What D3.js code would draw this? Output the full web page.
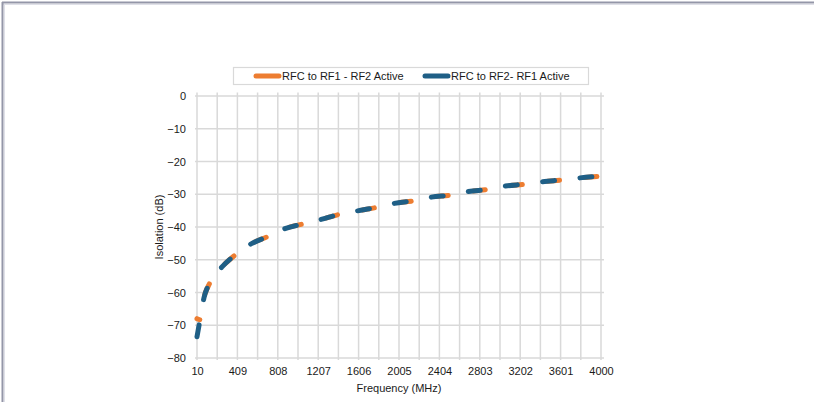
<!DOCTYPE html>
<html>
<head>
<meta charset="utf-8">
<script src="https://cdn.jsdelivr.net/npm/d3@7"></script>
<style>
  body { margin: 0; background: #fff; }
  svg { display: block; font-family: "Liberation Sans", Arial, sans-serif; }
</style>
</head>
<body>
<div class="IsolationChart"></div>
<script>
// frequency points (MHz)
const freqs = [10, 40, 79, 138, 257, 385, 553, 711, 879, 1067, 1245, 1422, 1590, 1788,
  1956, 2153, 2321, 2529, 2686, 2894, 3052, 3259, 3417, 3625, 3792, 4000];
const rf2Active = [-68, -68.3, -61.6, -57, -52.2, -48.6, -45, -42.9, -40.5, -39, -37.6, -36.1,
  -35.1, -34, -32.8, -32, -30.9, -30.2, -29.2, -28.5, -27.5, -26.9, -26.2, -25.6, -25, -24.5];
const rf1Active = [-73.5, -68.3, -61.6, -57, -52.2, -48.6, -45, -42.9, -40.5, -39, -37.6, -36.1,
  -35.1, -34, -32.8, -32, -30.9, -30.2, -29.2, -28.5, -27.5, -26.9, -26.2, -25.6, -25, -24.5];
const xTickLabels = [10, 409, 808, 1207, 1606, 2005, 2404, 2803, 3202, 3601, 4000];
const yTickLabels = [0, -10, -20, -30, -40, -50, -60, -70, -80];
const seriesNames = ["RFC to RF1 - RF2 Active", "RFC to RF2- RF1 Active"];

const W = 814, H = 402;
const margin = {top: 96, right: 213, bottom: 44, left: 197};
const width = W - margin.left - margin.right,
      height = H - margin.top - margin.bottom;

const root = d3.select(".IsolationChart")
  .append("svg")
  .attr("width", W)
  .attr("height", H);

// outer frame
root.append("line").attr("x1", 2).attr("x2", W).attr("y1", 2.5).attr("y2", 2.5)
  .attr("stroke", "#9496a8").attr("stroke-width", 2);
root.append("line").attr("x1", 2).attr("x2", W).attr("y1", 4.5).attr("y2", 4.5)
  .attr("stroke", "#dfe0e8").attr("stroke-width", 1);
root.append("line").attr("x1", 2.5).attr("x2", 2.5).attr("y1", 2).attr("y2", H)
  .attr("stroke", "#9496a8").attr("stroke-width", 2);
root.append("line").attr("x1", 4.5).attr("x2", 4.5).attr("y1", 4).attr("y2", H)
  .attr("stroke", "#dfe0e8").attr("stroke-width", 1);

const svg = root.append("g")
  .attr("transform", "translate(" + margin.left + "," + margin.top + ")");

let x = d3.scaleLinear().domain([10, 4000]).range([0, width]);
let y = d3.scaleLinear().domain([-80, 0]).range([height, 0]);

// vertical grid, one line every half label step
const step = (4000 - 10) / 20;
const gridX = d3.range(21).map(i => 10 + i * step);
svg.append("g")
  .selectAll("line")
  .data(gridX)
  .join("line")
  .attr("x1", d => x(d)).attr("x2", d => x(d))
  .attr("y1", -3.5).attr("y2", height + 2)
  .attr("stroke", "#d9d9d9").attr("stroke-width", 1.5);

// horizontal grid
svg.append("g")
  .selectAll("line")
  .data(yTickLabels)
  .join("line")
  .attr("x1", -2).attr("x2", width + 3)
  .attr("y1", d => y(d)).attr("y2", d => y(d))
  .attr("stroke", "#d9d9d9").attr("stroke-width", 1.5);

// axes (labels only)
const xAxis = svg.append("g")
  .attr("transform", "translate(0," + height + ")")
  .call(d3.axisBottom(x).tickValues(xTickLabels).tickSize(0).tickPadding(9).tickFormat(d3.format("d")));
xAxis.select(".domain").remove();
xAxis.selectAll("text").style("font-size", "11px").attr("fill", "#1a1a1a")
  .style("font-family", "Liberation Sans, Arial, sans-serif");

const yAxis = svg.append("g")
  .call(d3.axisLeft(y).tickValues(yTickLabels).tickSize(0).tickPadding(11).tickFormat(d3.format("d")));
yAxis.select(".domain").remove();
yAxis.selectAll("text").style("font-size", "11px").attr("fill", "#1a1a1a")
  .style("font-family", "Liberation Sans, Arial, sans-serif");

// axis titles
svg.append("text")
  .attr("x", width / 2).attr("y", height + 34)
  .attr("text-anchor", "middle")
  .style("font-size", "11px").attr("fill", "#1a1a1a")
  .text("Frequency (MHz)");
svg.append("text")
  .attr("transform", "translate(-34," + (height / 2) + ") rotate(-90)")
  .attr("text-anchor", "middle")
  .style("font-size", "11px").attr("fill", "#1a1a1a")
  .text("Isolation (dB)");

// series
const line = d3.line()
  .x(d => x(d.f))
  .y(d => y(d.v))
  .curve(d3.curveMonotoneX);

const orangeData = freqs.map((f, i) => ({f: f, v: rf2Active[i]}));
const blueData = freqs.map((f, i) => ({f: f, v: rf1Active[i]}));

svg.append("path")
  .datum(orangeData)
  .attr("fill", "none")
  .attr("stroke", "#ed7d31")
  .attr("stroke-width", 5)
  .attr("stroke-linecap", "round")
  .attr("stroke-dasharray", "12 25.5")
  .attr("stroke-dashoffset", 9)
  .attr("d", line);

svg.append("path")
  .datum(blueData)
  .attr("fill", "none")
  .attr("stroke", "#1f5f86")
  .attr("stroke-width", 5)
  .attr("stroke-linecap", "round")
  .attr("stroke-dasharray", "12 25.5")
  .attr("d", line);

// legend
const legend = root.append("g");
legend.append("rect")
  .attr("x", 233.5).attr("y", 67.5).attr("width", 355).attr("height", 17)
  .attr("fill", "#fff").attr("stroke", "#d9d9d9").attr("stroke-width", 1.2);
const legendItems = [
  {name: seriesNames[0], color: "#ed7d31", x0: 256},
  {name: seriesNames[1], color: "#1f5f86", x0: 425}
];
legendItems.forEach(it => {
  legend.append("line")
    .attr("x1", it.x0).attr("x2", it.x0 + 23).attr("y1", 76).attr("y2", 76)
    .attr("stroke", it.color).attr("stroke-width", 5).attr("stroke-linecap", "round");
  legend.append("text")
    .attr("x", it.x0 + 26).attr("y", 80)
    .style("font-size", "11px").attr("fill", "#1a1a1a")
    .text(it.name);
});
</script>
</body>
</html>
